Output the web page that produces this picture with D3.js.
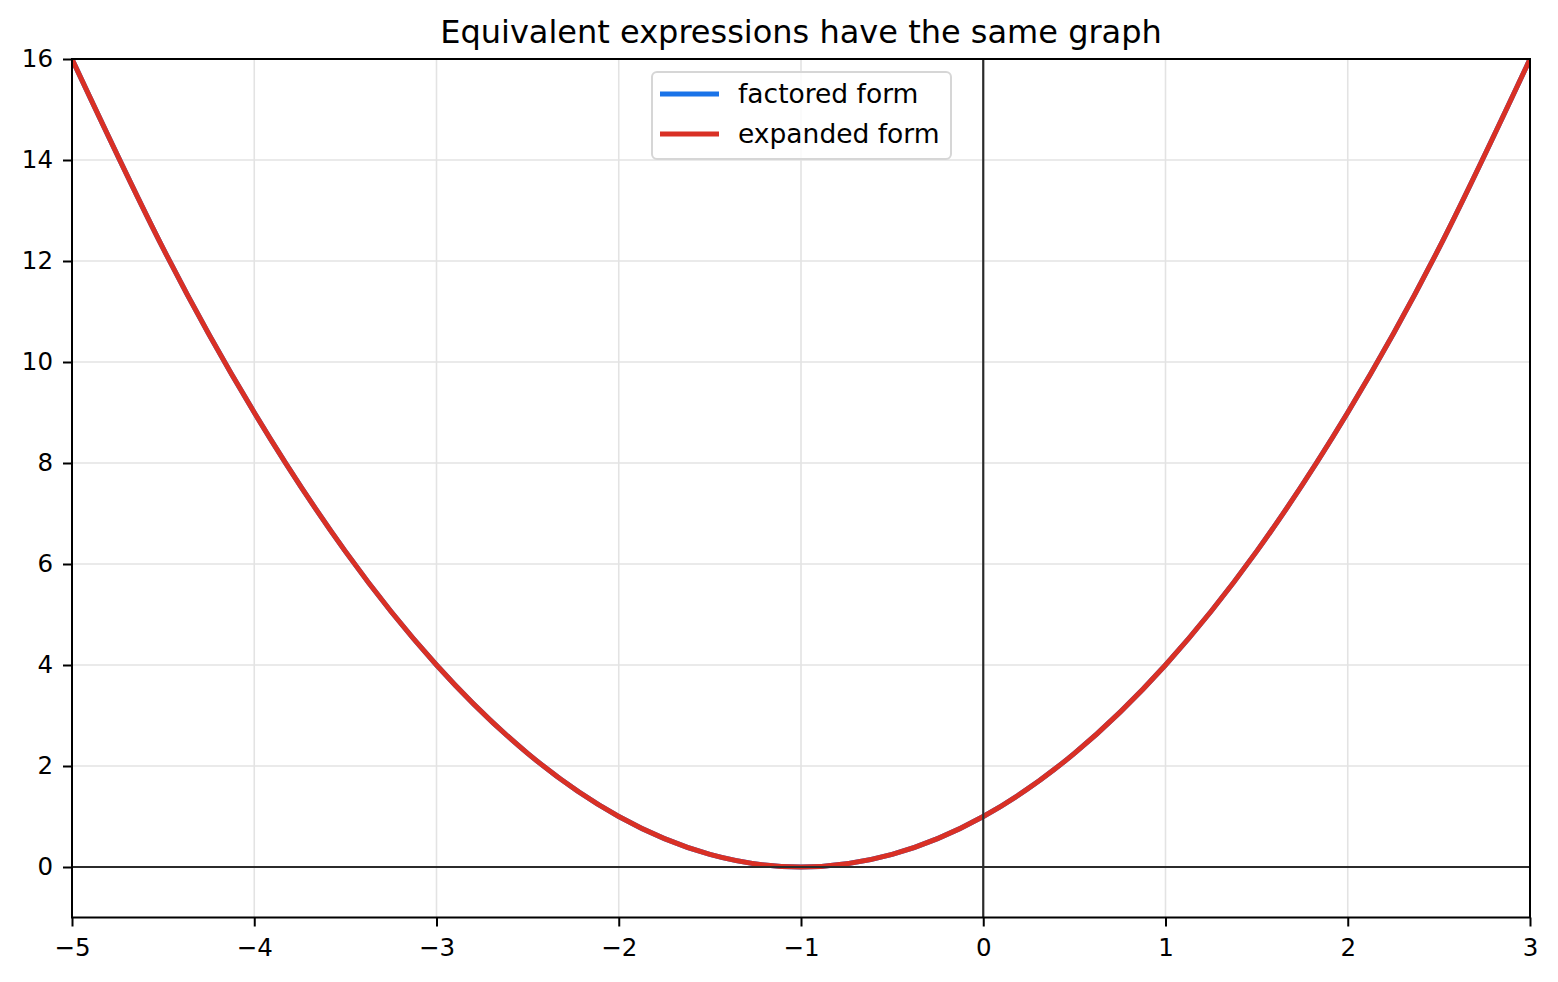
<!DOCTYPE html>
<html>
<head>
<meta charset="utf-8">
<script src="https://cdn.jsdelivr.net/npm/d3@7"></script>
<style>
  body { margin: 0; background: #fff; }
  svg { display: block; font-family: "DejaVu Sans", sans-serif; }
</style>
</head>
<body>
<svg id="chart" width="1558" height="982"></svg>
<script>
const xValues = [-5, -4.5, -4, -3.5, -3, -2.5, -2, -1.5, -1, -0.5, 0, 0.5, 1, 1.5, 2, 2.5, 3];
const factoredValues = [16, 12.25, 9, 6.25, 4, 2.25, 1, 0.25, 0, 0.25, 1, 2.25, 4, 6.25, 9, 12.25, 16];
const expandedValues = [16, 12.25, 9, 6.25, 4, 2.25, 1, 0.25, 0, 0.25, 1, 2.25, 4, 6.25, 9, 12.25, 16];
const xTicks = [-5, -4, -3, -2, -1, 0, 1, 2, 3];
const yTicks = [0, 2, 4, 6, 8, 10, 12, 14, 16];
const seriesNames = ["factored form", "expanded form"];
const seriesColors = ["#1a73e8", "#d93025"];

const margin = { top: 59, right: 28, bottom: 64.5, left: 72 };
const W = 1558, H = 982;

const svg = d3.select("#chart");

const x = d3.scaleLinear().domain([-5, 3]).range([margin.left, W - margin.right]);
const y = d3.scaleLinear().domain([-1, 16]).range([H - margin.bottom, margin.top]);

// grid
svg.append("g")
  .selectAll("line")
  .data(xTicks)
  .join("line")
  .attr("x1", d => x(d)).attr("x2", d => x(d))
  .attr("y1", margin.top).attr("y2", H - margin.bottom)
  .attr("stroke", "#e3e3e3").attr("stroke-width", 1.6);

svg.append("g")
  .selectAll("line")
  .data(yTicks)
  .join("line")
  .attr("x1", margin.left).attr("x2", W - margin.right)
  .attr("y1", d => y(d)).attr("y2", d => y(d))
  .attr("stroke", "#e3e3e3").attr("stroke-width", 1.6);

// curves
const line = d3.line()
  .x(d => x(d[0]))
  .y(d => y(d[1]))
  .curve(d3.curveNatural);

const series = [factoredValues, expandedValues].map(vals => xValues.map((v, i) => [v, vals[i]]));

svg.append("clipPath").attr("id", "plotclip")
  .append("rect")
  .attr("x", margin.left).attr("y", margin.top)
  .attr("width", W - margin.left - margin.right)
  .attr("height", H - margin.top - margin.bottom);

svg.append("g")
  .attr("clip-path", "url(#plotclip)")
  .selectAll("path")
  .data(series)
  .join("path")
  .attr("d", line)
  .attr("fill", "none")
  .attr("stroke", (d, i) => seriesColors[i])
  .attr("stroke-width", 5)
  .attr("stroke-linejoin", "round");

// zero lines
svg.append("line")
  .attr("x1", margin.left).attr("x2", W - margin.right)
  .attr("y1", y(0)).attr("y2", y(0))
  .attr("stroke", "#2b2b2b").attr("stroke-width", 2.2);
svg.append("line")
  .attr("x1", x(0)).attr("x2", x(0))
  .attr("y1", margin.top).attr("y2", H - margin.bottom)
  .attr("stroke", "#2b2b2b").attr("stroke-width", 2.2);

// axes
const xAxis = svg.append("g")
  .attr("transform", `translate(0,${H - margin.bottom})`)
  .call(d3.axisBottom(x).tickValues(xTicks).tickSize(9).tickPadding(12).tickFormat(d3.format("d")));
const yAxis = svg.append("g")
  .attr("transform", `translate(${margin.left},0)`)
  .call(d3.axisLeft(y).tickValues(yTicks).tickSize(9).tickPadding(10).tickFormat(d3.format("d")));

[xAxis, yAxis].forEach(a => {
  a.select(".domain").remove();
  a.selectAll(".tick line").attr("stroke", "#000").attr("stroke-width", 2);
  a.selectAll(".tick text").attr("font-size", 24.5).attr("fill", "#000")
    .attr("font-family", "DejaVu Sans");
});

// frame
svg.append("rect")
  .attr("x", margin.left).attr("y", margin.top)
  .attr("width", W - margin.left - margin.right)
  .attr("height", H - margin.top - margin.bottom)
  .attr("fill", "none").attr("stroke", "#000").attr("stroke-width", 2);

// title
svg.append("text")
  .attr("x", (margin.left + W - margin.right) / 2)
  .attr("y", 43)
  .attr("text-anchor", "middle")
  .attr("font-size", 32)
  .attr("fill", "#000")
  .text("Equivalent expressions have the same graph");

// legend
const legend = svg.append("g");
legend.append("rect")
  .attr("x", 652).attr("y", 72)
  .attr("width", 299).attr("height", 87)
  .attr("rx", 5)
  .attr("fill", "#fff").attr("fill-opacity", 0.8)
  .attr("stroke", "#d6d6d6").attr("stroke-width", 2);

const items = legend.selectAll("g.item")
  .data(seriesNames)
  .join("g")
  .attr("class", "item")
  .attr("transform", (d, i) => `translate(0,${94 + i * 40})`);
items.append("line")
  .attr("x1", 660).attr("x2", 719)
  .attr("stroke", (d, i) => seriesColors[i])
  .attr("stroke-width", 5);
items.append("text")
  .attr("x", 738).attr("y", 0)
  .attr("dy", "0.35em")
  .attr("font-size", 26.5)
  .attr("fill", "#000")
  .text(d => d);
</script>
</body>
</html>
